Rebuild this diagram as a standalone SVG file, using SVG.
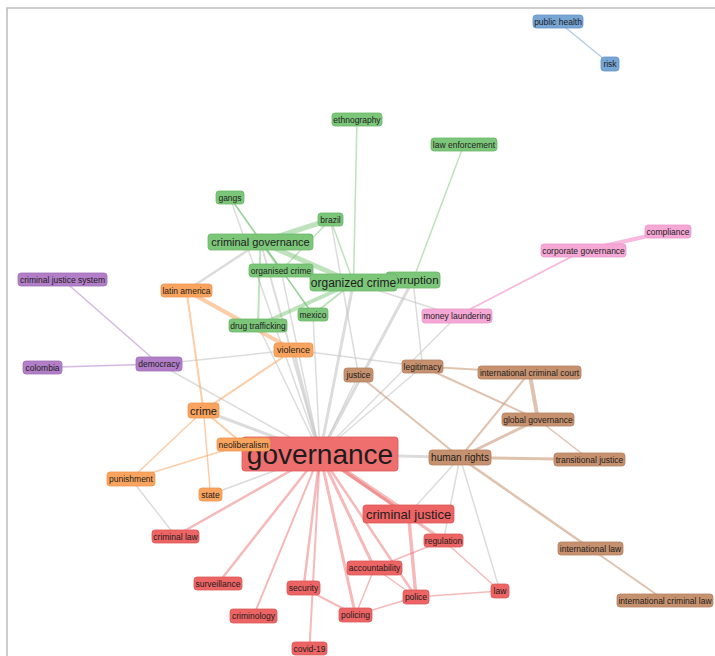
<svg xmlns="http://www.w3.org/2000/svg" width="715" height="656" viewBox="0 0 715 656">
<style>
text{font-family:"Liberation Sans",Arial,sans-serif;fill:#1c1c1c;text-anchor:middle;font-size:8.5px}
.n rect{rx:3px;ry:3px;stroke-width:0.8}
.G rect{fill:#7cc67a;stroke:#6ab868}
.O rect{fill:#f9a45e;stroke:#ee9650}
.P rect{fill:#b27ec8;stroke:#a06fb8}
.K rect{fill:#f5a8d6;stroke:#ea98c9}
.B rect{fill:#c6916e;stroke:#b58060}
.R rect{fill:#ec6464;stroke:#dd5858}
.L rect{fill:#77a5d4;stroke:#6896c6}
#edges line{stroke-linecap:round}
.eg{stroke:#c4c4c4;stroke-opacity:0.6}
.eG{stroke:#7cc67a;stroke-opacity:0.5}
.eO{stroke:#f9a45e;stroke-opacity:0.55}
.eP{stroke:#b27ec8;stroke-opacity:0.55}
.eK{stroke:#f5a8d6;stroke-opacity:0.8}
.eB{stroke:#c6916e;stroke-opacity:0.55}
.eR{stroke:#ec6464;stroke-opacity:0.45}
.eL{stroke:#77a5d4;stroke-opacity:0.55}
</style>
<path d="M7,656 V8 H715" fill="none" stroke="#bdbdbd" stroke-width="1.5"/>
<g id="edges">
<line class="eL" x1="558" y1="21.5" x2="610" y2="64" stroke-width="1.5"/>
<line class="eK" x1="583.5" y1="250.5" x2="668" y2="231.5" stroke-width="4"/>
<line class="eK" x1="457" y1="316" x2="583.5" y2="250.5" stroke-width="1.8"/>
<line class="eP" x1="159" y1="364" x2="62.5" y2="279.5" stroke-width="1.5"/>
<line class="eP" x1="159" y1="364" x2="42.5" y2="367.5" stroke-width="1.5"/>
<!-- gray -->
<line class="eg" x1="260.5" y1="242" x2="186.5" y2="290.5" stroke-width="2.5"/>
<line class="eg" x1="230" y1="197.5" x2="320" y2="454" stroke-width="1.5"/>
<line class="eg" x1="330.5" y1="219.5" x2="358.5" y2="375" stroke-width="1.5"/>
<line class="eg" x1="353.5" y1="282.5" x2="320" y2="454" stroke-width="3"/>
<line class="eg" x1="413" y1="280" x2="320" y2="454" stroke-width="3"/>
<line class="eg" x1="281" y1="270.5" x2="320" y2="454" stroke-width="1.5"/>
<line class="eg" x1="260.5" y1="242" x2="320" y2="454" stroke-width="2"/>
<line class="eg" x1="313" y1="314.5" x2="320" y2="454" stroke-width="1.5"/>
<line class="eg" x1="258" y1="325.5" x2="320" y2="454" stroke-width="1.5"/>
<line class="eg" x1="293.5" y1="350" x2="320" y2="454" stroke-width="2.5"/>
<line class="eg" x1="457" y1="316" x2="320" y2="454" stroke-width="1.5"/>
<line class="eg" x1="422.5" y1="366.5" x2="320" y2="454" stroke-width="1.5"/>
<line class="eg" x1="413" y1="280" x2="422.5" y2="366.5" stroke-width="1.5"/>
<line class="eg" x1="353.5" y1="282.5" x2="457" y2="316" stroke-width="1.5"/>
<line class="eg" x1="293.5" y1="350" x2="422.5" y2="366.5" stroke-width="1.5"/>
<line class="eg" x1="159" y1="364" x2="293.5" y2="350" stroke-width="1.5"/>
<line class="eg" x1="159" y1="364" x2="320" y2="454" stroke-width="1.5"/>
<line class="eg" x1="203.5" y1="410.5" x2="320" y2="454" stroke-width="3"/>
<line class="eg" x1="210.5" y1="494.5" x2="320" y2="454" stroke-width="1.5"/>
<line class="eg" x1="131" y1="479" x2="175.5" y2="536" stroke-width="1.5"/>
<line class="eg" x1="320" y1="454" x2="460" y2="457.5" stroke-width="3"/>
<line class="eg" x1="460" y1="457.5" x2="500" y2="591" stroke-width="1.5"/>
<line class="eg" x1="460" y1="457.5" x2="443.5" y2="540.5" stroke-width="1.5"/>
<line class="eg" x1="460" y1="457.5" x2="408.5" y2="514" stroke-width="1.5"/>
<line class="eg" x1="320" y1="454" x2="358.5" y2="375" stroke-width="1.5"/>
<!-- green -->
<line class="eG" x1="357" y1="119.5" x2="353.5" y2="282.5" stroke-width="1.5"/>
<line class="eG" x1="464" y1="144.5" x2="413" y2="280" stroke-width="1.5"/>
<line class="eG" x1="230" y1="197.5" x2="313" y2="314.5" stroke-width="1.5" style="stroke-opacity:0.8"/>
<line class="eG" x1="260.5" y1="242" x2="330.5" y2="219.5" stroke-width="5"/>
<line class="eG" x1="260.5" y1="242" x2="353.5" y2="282.5" stroke-width="5"/>
<line class="eG" x1="260.5" y1="242" x2="281" y2="270.5" stroke-width="2"/>
<line class="eG" x1="260.5" y1="242" x2="258" y2="325.5" stroke-width="2"/>
<line class="eG" x1="330.5" y1="219.5" x2="353.5" y2="282.5" stroke-width="1.5"/>
<line class="eG" x1="330.5" y1="219.5" x2="281" y2="270.5" stroke-width="1.5"/>
<line class="eG" x1="353.5" y1="282.5" x2="313" y2="314.5" stroke-width="2"/>
<line class="eG" x1="353.5" y1="282.5" x2="258" y2="325.5" stroke-width="4"/>
<line class="eG" x1="353.5" y1="282.5" x2="413" y2="280" stroke-width="2"/>
<!-- orange -->
<line class="eO" x1="186.5" y1="290.5" x2="293.5" y2="350" stroke-width="4"/>
<line class="eO" x1="186.5" y1="290.5" x2="203.5" y2="410.5" stroke-width="2"/>
<line class="eO" x1="293.5" y1="350" x2="203.5" y2="410.5" stroke-width="2"/>
<line class="eO" x1="203.5" y1="410.5" x2="210.5" y2="494.5" stroke-width="1.5"/>
<line class="eO" x1="203.5" y1="410.5" x2="131" y2="479" stroke-width="1.5"/>
<line class="eO" x1="203.5" y1="410.5" x2="243.5" y2="444.5" stroke-width="2"/>
<line class="eO" x1="131" y1="479" x2="243.5" y2="444.5" stroke-width="1.5"/>
<!-- brown -->
<line class="eB" x1="422.5" y1="366.5" x2="529.5" y2="372.5" stroke-width="2"/>
<line class="eB" x1="422.5" y1="366.5" x2="538" y2="419.5" stroke-width="2"/>
<line class="eB" x1="529.5" y1="372.5" x2="538" y2="419.5" stroke-width="4"/>
<line class="eB" x1="529.5" y1="372.5" x2="460" y2="457.5" stroke-width="2"/>
<line class="eB" x1="538" y1="419.5" x2="460" y2="457.5" stroke-width="3"/>
<line class="eB" x1="538" y1="419.5" x2="589.5" y2="459.5" stroke-width="1.5"/>
<line class="eB" x1="460" y1="457.5" x2="589.5" y2="459.5" stroke-width="3"/>
<line class="eB" x1="358.5" y1="375" x2="460" y2="457.5" stroke-width="2"/>
<line class="eB" x1="460" y1="457.5" x2="590.5" y2="548.5" stroke-width="2.5"/>
<line class="eB" x1="590.5" y1="548.5" x2="665" y2="600.5" stroke-width="2"/>
<!-- red -->
<line class="eR" x1="320" y1="454" x2="408.5" y2="514" stroke-width="5"/>
<line class="eR" x1="320" y1="454" x2="443.5" y2="540.5" stroke-width="3"/>
<line class="eR" x1="320" y1="454" x2="175.5" y2="536" stroke-width="2.5"/>
<line class="eR" x1="320" y1="454" x2="218" y2="583.5" stroke-width="2.5"/>
<line class="eR" x1="320" y1="454" x2="253.5" y2="616" stroke-width="2"/>
<line class="eR" x1="320" y1="454" x2="303.5" y2="588" stroke-width="2.5"/>
<line class="eR" x1="320" y1="454" x2="309.5" y2="648.5" stroke-width="2"/>
<line class="eR" x1="320" y1="454" x2="355.5" y2="615" stroke-width="3"/>
<line class="eR" x1="320" y1="454" x2="374.5" y2="568" stroke-width="3"/>
<line class="eR" x1="320" y1="454" x2="416" y2="597" stroke-width="2.5"/>
<line class="eR" x1="408.5" y1="514" x2="416" y2="597" stroke-width="3.5"/>
<line class="eR" x1="443.5" y1="540.5" x2="374.5" y2="568" stroke-width="1.5"/>
<line class="eR" x1="443.5" y1="540.5" x2="500" y2="591" stroke-width="1.5"/>
<line class="eR" x1="416" y1="597" x2="500" y2="591" stroke-width="1.5"/>
<line class="eR" x1="416" y1="597" x2="355.5" y2="615" stroke-width="1.5"/>
<line class="eR" x1="303.5" y1="588" x2="355.5" y2="615" stroke-width="2"/>
<line class="eR" x1="374.5" y1="568" x2="355.5" y2="615" stroke-width="1.5"/>
<line class="eR" x1="374.5" y1="568" x2="416" y2="597" stroke-width="1.5"/>
</g>
<g id="public_health" class="n L"><rect x="533" y="15" width="50" height="13"/><text x="558" y="24.5">public health</text></g>
<g id="risk" class="n L"><rect x="601" y="57" width="18" height="14"/><text x="610" y="67">risk</text></g>
<g id="ethnography" class="n G"><rect x="332" y="113" width="50" height="13"/><text x="357" y="122.5">ethnography</text></g>
<g id="law_enforcement" class="n G"><rect x="431" y="138" width="66" height="13"/><text x="464" y="147.5">law enforcement</text></g>
<g id="gangs" class="n G"><rect x="216" y="191" width="28" height="13"/><text x="230" y="200.5">gangs</text></g>
<g id="brazil" class="n G"><rect x="318" y="213" width="25" height="13"/><text x="330.5" y="222.5">brazil</text></g>
<g id="criminal_governance" class="n G"><rect x="208" y="234" width="105" height="16"/><text x="260.5" y="246" style="font-size:11px">criminal governance</text></g>
<g id="organised_crime" class="n G"><rect x="249" y="264" width="64" height="13"/><text x="281" y="273.5">organised crime</text></g>
<g id="corruption" class="n G"><rect x="386" y="272" width="54" height="16"/><text x="413" y="284" style="font-size:11.5px">corruption</text></g>
<g id="organized_crime" class="n G"><rect x="310" y="274" width="87" height="17"/><text x="353.5" y="286.7" style="font-size:12px">organized crime</text></g>
<g id="latin_america" class="n O"><rect x="161" y="284" width="51" height="13"/><text x="186.5" y="293.5">latin america</text></g>
<g id="criminal_justice_system" class="n P"><rect x="18" y="273" width="89" height="13"/><text x="62.5" y="282.5">criminal justice system</text></g>
<g id="drug_trafficking" class="n G"><rect x="229" y="319" width="58" height="13"/><text x="258" y="328.5">drug trafficking</text></g>
<g id="mexico" class="n G"><rect x="298" y="308" width="30" height="13"/><text x="313" y="317.5">mexico</text></g>
<g id="money_laundering" class="n K"><rect x="422" y="309" width="70" height="14"/><text x="457" y="319">money laundering</text></g>
<g id="corporate_governance" class="n K"><rect x="541" y="244" width="85" height="13"/><text x="583.5" y="253.5">corporate governance</text></g>
<g id="compliance" class="n K"><rect x="645" y="225" width="46" height="13"/><text x="668" y="234.5">compliance</text></g>
<g id="violence" class="n O"><rect x="274" y="343" width="39" height="14"/><text x="293.5" y="353.2" style="font-size:9px">violence</text></g>
<g id="democracy" class="n P"><rect x="136" y="357" width="46" height="14"/><text x="159" y="367">democracy</text></g>
<g id="colombia" class="n P"><rect x="23" y="361" width="39" height="13"/><text x="42.5" y="370.5">colombia</text></g>
<g id="justice" class="n B"><rect x="344" y="368" width="29" height="14"/><text x="358.5" y="378">justice</text></g>
<g id="legitimacy" class="n B"><rect x="402" y="360" width="41" height="13"/><text x="422.5" y="369.5">legitimacy</text></g>
<g id="international_criminal_court" class="n B"><rect x="478" y="366" width="103" height="13"/><text x="529.5" y="375.5">international criminal court</text></g>
<g id="global_governance" class="n B"><rect x="502" y="413" width="72" height="13"/><text x="538" y="422.5">global governance</text></g>
<g id="crime" class="n O"><rect x="188" y="403" width="31" height="15"/><text x="203.5" y="414.5" style="font-size:11px">crime</text></g>
<g id="governance" class="n R"><rect x="242" y="437" width="156" height="34" style="fill:#ef6e6e"/><text x="320" y="463.5" style="font-size:28px">governance</text></g>
<g id="neoliberalism" class="n O"><rect x="217" y="438" width="53" height="13"/><text x="243.5" y="447.5">neoliberalism</text></g>
<g id="human_rights" class="n B"><rect x="429" y="450" width="62" height="15"/><text x="460" y="461" style="font-size:10px">human rights</text></g>
<g id="transitional_justice" class="n B"><rect x="554" y="453" width="71" height="13"/><text x="589.5" y="462.5">transitional justice</text></g>
<g id="punishment" class="n O"><rect x="107" y="472" width="48" height="14"/><text x="131" y="482">punishment</text></g>
<g id="state" class="n O"><rect x="199" y="488" width="23" height="13"/><text x="210.5" y="497.5">state</text></g>
<g id="criminal_justice" class="n R"><rect x="363" y="505" width="91" height="18"/><text x="408.5" y="518.6" style="font-size:13px">criminal justice</text></g>
<g id="criminal_law" class="n R"><rect x="152" y="530" width="47" height="13"/><text x="175.5" y="539.5">criminal law</text></g>
<g id="regulation" class="n R"><rect x="424" y="534" width="39" height="13"/><text x="443.5" y="543.5">regulation</text></g>
<g id="international_law" class="n B"><rect x="558" y="542" width="65" height="13"/><text x="590.5" y="551.5">international law</text></g>
<g id="accountability" class="n R"><rect x="347" y="561" width="55" height="14"/><text x="374.5" y="571">accountability</text></g>
<g id="surveillance" class="n R"><rect x="194" y="577" width="48" height="13"/><text x="218" y="586.5">surveillance</text></g>
<g id="security" class="n R"><rect x="287" y="581" width="33" height="14"/><text x="303.5" y="591">security</text></g>
<g id="law" class="n R"><rect x="491" y="584" width="18" height="14"/><text x="500" y="594">law</text></g>
<g id="police" class="n R"><rect x="403" y="590" width="26" height="14"/><text x="416" y="600">police</text></g>
<g id="international_criminal_law" class="n B"><rect x="617" y="594" width="96" height="13"/><text x="665" y="603.5">international criminal law</text></g>
<g id="criminology" class="n R"><rect x="230" y="609" width="47" height="14"/><text x="253.5" y="619">criminology</text></g>
<g id="policing" class="n R"><rect x="339" y="608" width="33" height="14"/><text x="355.5" y="618">policing</text></g>
<g id="covid-19" class="n R"><rect x="292" y="642" width="35" height="13"/><text x="309.5" y="651.5">covid-19</text></g>
</svg>
